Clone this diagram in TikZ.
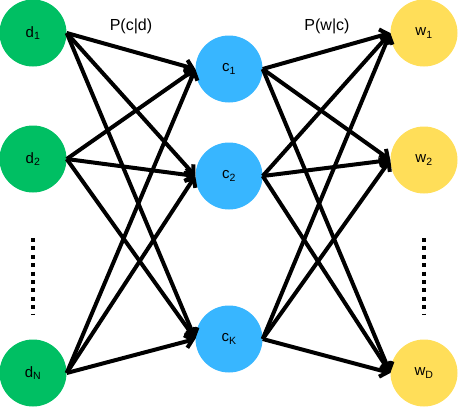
\documentclass[tikz,border=0pt]{standalone}
\usepackage{fontspec}
\setmainfont{Liberation Sans}
\usetikzlibrary{arrows.meta}

\definecolor{docgreen}{HTML}{00BF63}
\definecolor{topicblue}{HTML}{38B6FF}
\definecolor{wordyellow}{HTML}{FFDE59}

\tikzset{
	unit/.style={circle, minimum size=67pt, inner sep=0pt, font=\fontsize{15}{17}\selectfont},
	link/.style={line width=4pt, -{Straight Barb[length=7pt,width=13pt]}},
	vdots/.style={line width=4pt, dash pattern=on 4pt off 4.4pt}
}

\begin{document}
\begin{tikzpicture}[x=1pt,y=-1pt]
\useasboundingbox (0,0) rectangle (458,407);

\node [unit, fill=docgreen] (d1) at (33,33) {d\textsubscript{1}};
\node [unit, fill=docgreen] (d2) at (33,159) {d\textsubscript{2}};
\node [unit, fill=docgreen] (dN) at (33,373) {d\textsubscript{N}};

\node [unit, fill=topicblue] (c1) at (229,69) {c\textsubscript{1}};
\node [unit, fill=topicblue] (c2) at (229,176) {c\textsubscript{2}};
\node [unit, fill=topicblue] (cK) at (229,339) {c\textsubscript{K}};

\node [unit, fill=wordyellow] (w1) at (424,33) {w\textsubscript{1}};
\node [unit, fill=wordyellow] (w2) at (424,160) {w\textsubscript{2}};
\node [unit, fill=wordyellow] (wD) at (424,373) {w\textsubscript{D}};

\draw [vdots] (33,238) -- (33,314);
\draw [vdots] (424,238) -- (424,314);

\foreach \a in {d1,d2,dN}{
	\foreach \b in {c1,c2,cK}{
		\draw [link] (\a.east) -- (\b.west);
	}
}
\foreach \a in {c1,c2,cK}{
	\foreach \b in {w1,w2,wD}{
		\draw [link] (\a.east) -- (\b.west);
	}
}

\node [font=\fontsize{16}{18}\selectfont] (pcd) at (131,26) {P(c|d)};
\node [font=\fontsize{16}{18}\selectfont] (pwc) at (327,26) {P(w|c)};

\end{tikzpicture}
\end{document}
